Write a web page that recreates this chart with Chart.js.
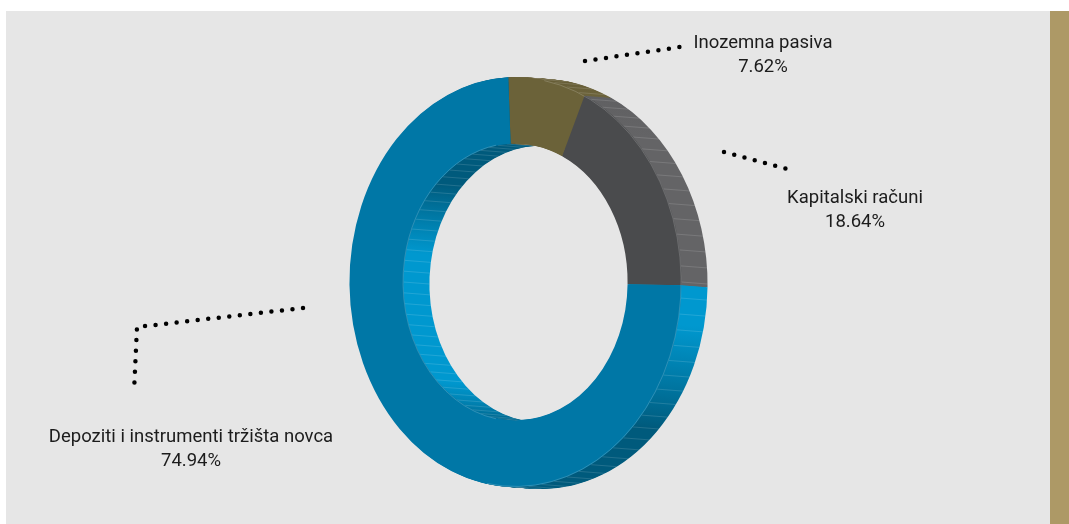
<!DOCTYPE html>
<html>
<head>
<meta charset="utf-8">
<script src="https://cdn.jsdelivr.net/npm/chart.js@4.4.1/dist/chart.umd.min.js"></script>
<style>
  html, body { margin: 0; padding: 0; background: #ffffff; }
  #wrap { position: relative; width: 1069px; height: 524px; overflow: hidden; background: #ffffff; }
  #panel { position: absolute; left: 6px; top: 11px; width: 1044px; height: 513px; background: #e6e6e6; }
  #accent { position: absolute; left: 1050px; top: 11px; width: 19px; height: 513px; background: #ad9966; }
  canvas { position: absolute; left: 0; top: 0; }
</style>
</head>
<body>
<div id="wrap">
  <div id="panel"></div>
  <div id="accent"></div>
  <canvas id="c" width="1069" height="524"></canvas>
</div>
<script>
// Struktura pasive
const categories = ['Inozemna pasiva', 'Kapitalski računi', 'Depoziti i instrumenti tržišta novca'];
const shares = [7.62, 18.64, 74.94];

// face colour and lit / shaded colour of each slice's side wall
const faceColors = ['#6b6239', '#4a4b4d', '#0077a6'];
const sideLight = ['#766c42', '#646466', '#0098cf'];
const sideDark = ['#625933', '#5c5c5e', '#005a7c'];

// ring drawn as a squashed, extruded ellipse
const ring = { squash: 0.81, depthX: 26, depthY: 2, layers: 26, stripeStep: 4.5 };

// label placement and dotted leader lines
const labelLayout = [
  { x: 763, y: 48, leader: [[585, 61], [680, 47]] },
  { x: 855, y: 203, leader: [[724, 152], [787, 169]] },
  { x: 191, y: 442, leader: [[303, 308], [137, 327], [134, 392]] }
];

function mixHex(a, b, t) {
  const pa = parseInt(a.slice(1), 16), pb = parseInt(b.slice(1), 16);
  const ch = (p, s) => (p >> s) & 255;
  const r = Math.round(ch(pa, 16) + (ch(pb, 16) - ch(pa, 16)) * t);
  const g = Math.round(ch(pa, 8) + (ch(pb, 8) - ch(pa, 8)) * t);
  const bl = Math.round(ch(pa, 0) + (ch(pb, 0) - ch(pa, 0)) * t);
  return 'rgb(' + r + ',' + g + ',' + bl + ')';
}

// light falls on walls whose normal points to the right
function wallGradient(ctx, light, dark) {
  const g = ctx.createConicGradient(0, 0, 0);
  const shade = [[0, 0], [12, 0], [45, 1], [90, 1], [115, 0.5], [135, 0], [180, 0]];
  for (let half = 0; half < 2; half++) {
    shade.forEach(([deg, t]) => {
      g.addColorStop(Math.min((deg + half * 180) / 360, 1), mixHex(light, dark, t));
    });
  }
  return g;
}

function sectorPath(ctx, arc) {
  ctx.beginPath();
  ctx.arc(0, 0, arc.outerRadius, arc.startAngle, arc.endAngle);
  ctx.arc(0, 0, arc.innerRadius, arc.endAngle, arc.startAngle, true);
  ctx.closePath();
}

const extrudedRing = {
  id: 'extrudedRing',
  beforeDatasetsDraw(chart) {
    const ctx = chart.ctx;
    const arcs = chart.getDatasetMeta(0).data;
    if (!arcs.length) return;
    const cx = arcs[0].x, cy = arcs[0].y;
    const grads = arcs.map((a, k) => wallGradient(ctx, sideLight[k], sideDark[k]));
    // side walls: stacked copies from back to front
    for (let i = ring.layers; i >= 1; i--) {
      ctx.save();
      ctx.translate(cx + ring.depthX * i / ring.layers, cy + ring.depthY * i / ring.layers);
      ctx.scale(ring.squash, 1);
      arcs.forEach((arc, k) => {
        ctx.fillStyle = grads[k];
        sectorPath(ctx, arc);
        ctx.fill();
      });
      ctx.restore();
    }
    // faint seams running along the depth of the walls
    const outerR = arcs[0].outerRadius, innerR = arcs[0].innerRadius;
    ctx.save();
    ctx.strokeStyle = 'rgba(255,255,255,0.17)';
    ctx.lineWidth = 0.8;
    ctx.beginPath();
    for (let deg = 0; deg < 360; deg += ring.stripeStep) {
      const t = deg * Math.PI / 180;
      [outerR, innerR].forEach(r => {
        const px = cx + ring.squash * r * Math.cos(t), py = cy + r * Math.sin(t);
        ctx.moveTo(px, py);
        ctx.lineTo(px + ring.depthX, py + ring.depthY);
      });
    }
    ctx.stroke();
    ctx.restore();
  },
  beforeDatasetDraw(chart) {
    const ctx = chart.ctx;
    const arcs = chart.getDatasetMeta(0).data;
    const cx = arcs[0].x, cy = arcs[0].y;
    ctx.save();
    ctx.translate(cx, cy);
    ctx.scale(ring.squash, 1);
    ctx.translate(-cx, -cy);
  },
  afterDatasetDraw(chart) {
    const ctx = chart.ctx;
    ctx.restore();
    const arcs = chart.getDatasetMeta(0).data;
    const cx = arcs[0].x, cy = arcs[0].y;
    // thin highlight where the face meets the visible walls
    ctx.save();
    ctx.translate(cx, cy);
    ctx.scale(ring.squash, 1);
    ctx.strokeStyle = 'rgba(255,255,255,0.2)';
    ctx.lineWidth = 1;
    ctx.beginPath();
    ctx.arc(0, 0, arcs[0].outerRadius - 0.5, -80 * Math.PI / 180, 100 * Math.PI / 180);
    ctx.stroke();
    ctx.beginPath();
    ctx.arc(0, 0, arcs[0].innerRadius + 0.5, 100 * Math.PI / 180, 260 * Math.PI / 180);
    ctx.stroke();
    ctx.restore();
  },
  afterDraw(chart) {
    const ctx = chart.ctx;
    ctx.save();
    // dotted leaders
    ctx.strokeStyle = '#000000';
    ctx.lineWidth = 4.5;
    ctx.lineCap = 'round';
    ctx.setLineDash([0, 10.6]);
    labelLayout.forEach(l => {
      ctx.beginPath();
      l.leader.forEach(([x, y], j) => (j ? ctx.lineTo(x, y) : ctx.moveTo(x, y)));
      ctx.stroke();
    });
    ctx.setLineDash([]);
    // category name and share
    ctx.fillStyle = '#1c1c1c';
    ctx.font = '18.5px Roboto, "Noto Sans", sans-serif';
    ctx.textAlign = 'center';
    ctx.textBaseline = 'alphabetic';
    labelLayout.forEach((l, k) => {
      ctx.fillText(categories[k], l.x, l.y);
      ctx.fillText(shares[k].toFixed(2) + '%', l.x, l.y + 24);
    });
    ctx.restore();
  }
};

new Chart(document.getElementById('c'), {
  type: 'doughnut',
  data: {
    labels: categories,
    datasets: [{
      data: shares,
      backgroundColor: faceColors,
      borderWidth: 0,
      hoverOffset: 0
    }]
  },
  options: {
    responsive: false,
    animation: false,
    cutout: '67.5%',
    rotation: -2.5,
    layout: { padding: { top: 77, bottom: 37, left: 105, right: 143 } },
    plugins: {
      legend: { display: false },
      tooltip: { enabled: false }
    }
  },
  plugins: [extrudedRing]
});
</script>
</body>
</html>
